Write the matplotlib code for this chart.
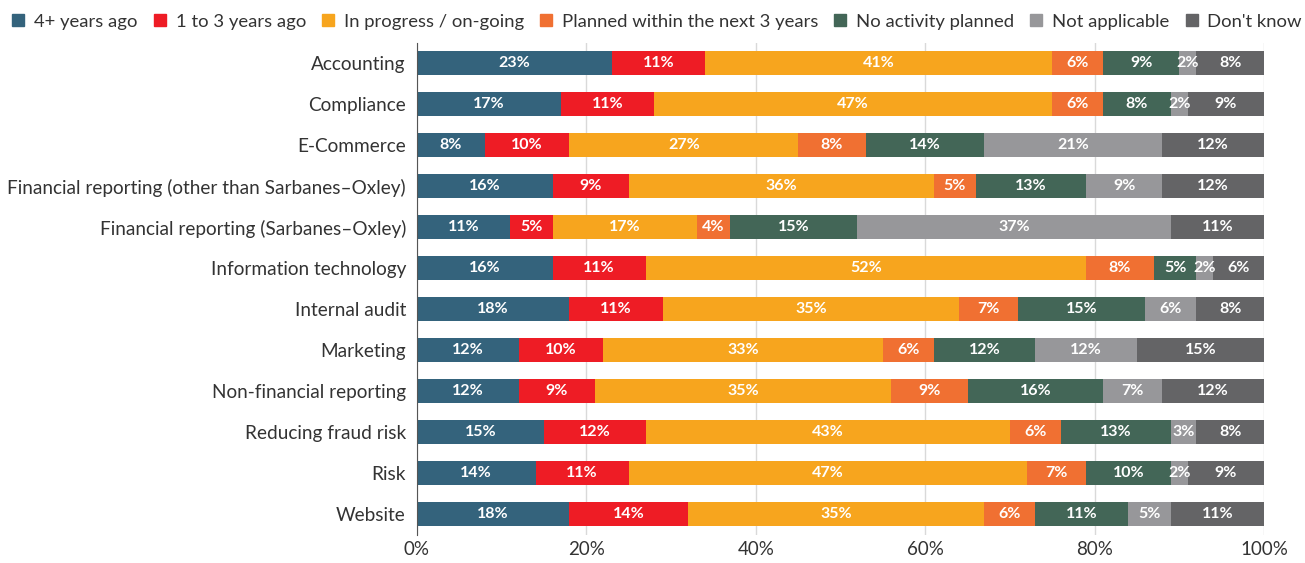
import matplotlib
matplotlib.use("Agg")
import matplotlib.pyplot as plt
from matplotlib.lines import Line2D
import numpy as np

plt.rcParams['font.family'] = ['Lato', 'DejaVu Sans']

categories = [
    "Accounting", "Compliance", "E-Commerce",
    "Financial reporting (other than Sarbanes\u2013Oxley)",
    "Financial reporting (Sarbanes\u2013Oxley)",
    "Information technology", "Internal audit", "Marketing",
    "Non-financial reporting", "Reducing fraud risk", "Risk", "Website",
]
series_names = ["4+ years ago", "1 to 3 years ago", "In progress / on-going",
                "Planned within the next 3 years", "No activity planned",
                "Not applicable", "Don't know"]
four_plus = [23, 17, 8, 16, 11, 16, 18, 12, 12, 15, 14, 18]
one_to_three = [11, 11, 10, 9, 5, 11, 11, 10, 9, 12, 11, 14]
in_progress = [41, 47, 27, 36, 17, 52, 35, 33, 35, 43, 47, 35]
planned = [6, 6, 8, 5, 4, 8, 7, 6, 9, 6, 7, 6]
no_activity = [9, 8, 14, 13, 15, 5, 15, 12, 16, 13, 10, 11]
not_applicable = [2, 2, 21, 9, 37, 2, 6, 12, 7, 3, 2, 5]
dont_know = [8, 9, 12, 12, 11, 6, 8, 15, 12, 8, 9, 11]
series = [four_plus, one_to_three, in_progress, planned, no_activity,
          not_applicable, dont_know]
colors = ["#34637C", "#EE1C25", "#F7A51E", "#F07032", "#436657", "#97979A", "#646466"]
xticks = [0, 20, 40, 60, 80, 100]
xtick_labels = ["0%", "20%", "40%", "60%", "80%", "100%"]

fig = plt.figure(figsize=(13.05, 5.63), dpi=100)
ax = fig.add_axes([417/1305, (563-534.5)/563, 847/1305, 492/563])

y = np.arange(len(categories))
left = np.zeros(len(categories))
for name, vals, col in zip(series_names, series, colors):
    vals = np.array(vals, dtype=float)
    ax.barh(y, vals, left=left, height=0.6, color=col, label=name, zorder=3)
    for yi, l, v in zip(y, left, vals):
        ax.text(l + v / 2, yi, f"{int(v)}%", ha="center", va="center",
                color="white", fontsize=11.5, fontweight="bold", zorder=4)
    left += vals

ax.set_xlim(0, 100)
ax.set_ylim(len(categories) - 0.5, -0.5)
ax.set_yticks(y)
ax.set_yticklabels(categories, fontsize=13.7, color="#333333")
ax.set_xticks(xticks)
ax.set_xticklabels(xtick_labels, fontsize=13.5, color="#333333")
ax.tick_params(axis="y", length=0, pad=8)
ax.tick_params(axis="x", length=0, pad=5)
ax.grid(axis="x", color="#D9D9D9", linewidth=1, zorder=0)
for s in ["top", "right", "bottom"]:
    ax.spines[s].set_visible(False)
ax.spines["left"].set_color("#555555")
ax.spines["left"].set_zorder(5)

handles = [Line2D([0], [0], marker="s", linestyle="none", markersize=8.5,
                  markerfacecolor=c, markeredgecolor=c) for c in colors]
fig.legend(handles, series_names, loc="upper left", bbox_to_anchor=(0.0, 0.995),
           ncol=7, frameon=False, fontsize=13.3, handletextpad=0.45,
           columnspacing=0.8, handlelength=0.8, borderaxespad=0.2,
           labelcolor="#333333")

fig.savefig("out.png", dpi=100)
